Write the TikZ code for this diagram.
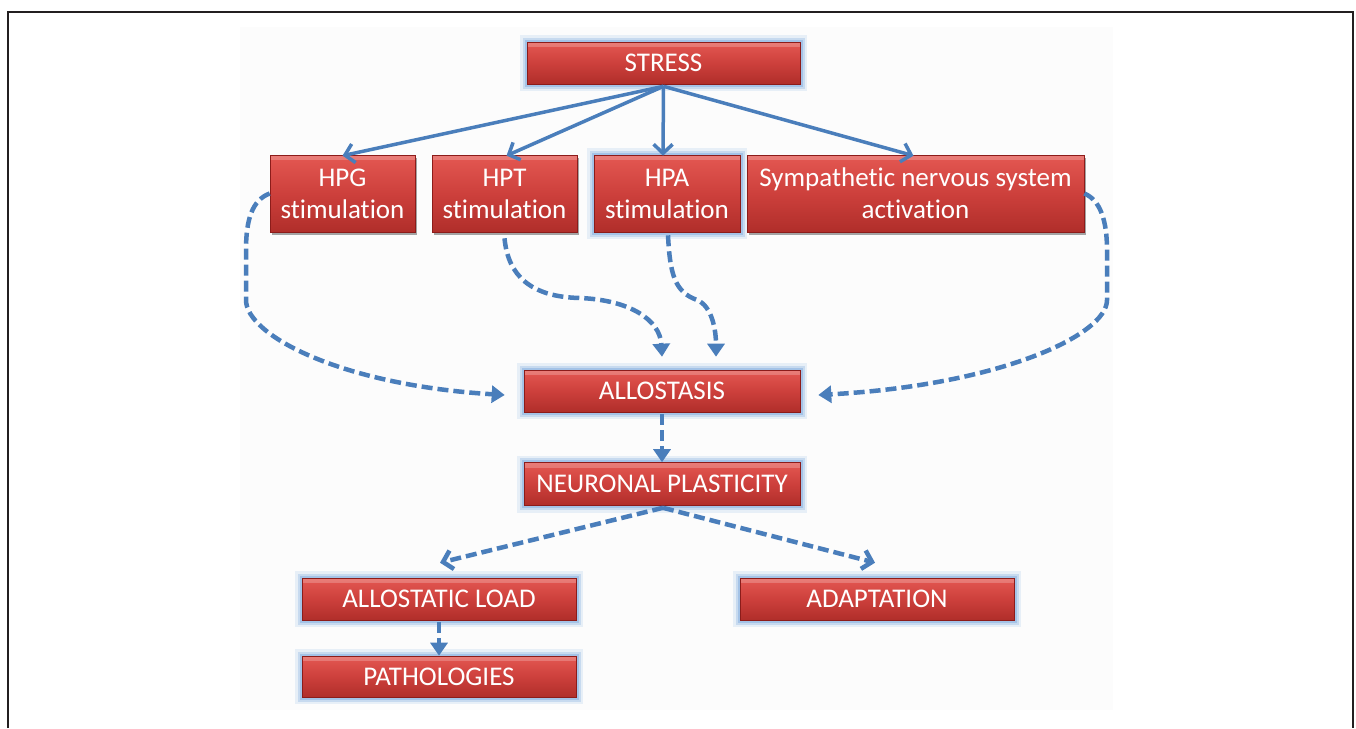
\documentclass[tikz,border=0pt]{standalone}
\usepackage{fontspec}
\setmainfont{Carlito}[Ligatures=NoCommon]
\usetikzlibrary{arrows.meta,shadows,calc}
\definecolor{redtop}{RGB}{228,88,82}
\definecolor{redmid}{RGB}{205,64,60}
\definecolor{redbot}{RGB}{176,46,42}
\definecolor{boxborder}{RGB}{140,28,26}
\definecolor{arrowblue}{RGB}{74,126,187}
\definecolor{glowblue}{RGB}{141,180,226}
\definecolor{framecol}{RGB}{35,31,32}
\tikzset{
  box/.style={draw=boxborder, line width=0.6pt, top color=redtop, bottom color=redbot, middle color=redmid,
    text=white, font=\fontsize{27}{32}\selectfont, align=center, inner sep=0pt,
    path picture={\fill[white,opacity=0.22] (path picture bounding box.north west) rectangle ([yshift=-5pt]path picture bounding box.north east);}},
  glow/.style={preaction={draw=glowblue, line width=14pt, opacity=0.18},
               preaction={draw=glowblue, line width=9pt, opacity=0.35},
               preaction={draw=glowblue, line width=5pt, opacity=0.6}},
  shad/.style={drop shadow={shadow xshift=2pt, shadow yshift=-3pt, opacity=0.35, fill=black}},
  solidarrow/.style={draw=arrowblue, line width=3.5pt, -{Straight Barb[length=9pt,width=19pt]}},
  dasharrow/.style={draw=arrowblue, line width=4.5pt, dash pattern=on 11pt off 5pt, -{Triangle[length=13pt,width=17pt]}},
  dashbarb/.style={draw=arrowblue, line width=4.5pt, dash pattern=on 11pt off 5pt, -{Straight Barb[length=9pt,width=19pt]}},
}
\begin{document}
\begin{tikzpicture}[x=1pt,y=-1pt]
\useasboundingbox (0,0) rectangle (1356,728);
\fill[white] (0,0) rectangle (1356,728);
\fill[black!1] (240,27) rectangle (1113,710);
\draw[framecol, line width=2.5pt] (8,728) -- (8,12) -- (1353,12) -- (1353,728);

\node[box,glow,minimum width=273pt,minimum height=42pt] (stress) at (663.5,63) {STRESS};
\node[box,shad,minimum width=145pt,minimum height=77pt] (hpg) at (342.5,193.5) {HPG\\stimulation};
\node[box,shad,minimum width=145pt,minimum height=77pt] (hpt) at (504.5,193.5) {HPT\\stimulation};
\node[box,glow,minimum width=146pt,minimum height=77pt] (hpa) at (667,193.5) {HPA\\stimulation};
\node[box,shad,minimum width=337pt,minimum height=77pt] (symp) at (915.5,193.5) {Sympathetic nervous system\\activation};
\node[box,glow,minimum width=276pt,minimum height=42pt] (allo) at (662,391) {ALLOSTASIS};
\node[box,glow,minimum width=276pt,minimum height=43pt] (np) at (662,484) {NEURONAL PLASTICITY};
\node[box,glow,minimum width=274pt,minimum height=42pt] (al) at (439,599) {ALLOSTATIC LOAD};
\node[box,glow,minimum width=274pt,minimum height=42pt] (adapt) at (877,599) {ADAPTATION};
\node[box,glow,minimum width=274pt,minimum height=41pt] (path) at (439,676.5) {PATHOLOGIES};

\draw[solidarrow] ($(stress.south)+(0,2)$) -- ($(hpg.north)+(0,1)$);
\draw[solidarrow] ($(stress.south)+(0,2)$) -- ($(hpt.north)+(2,1)$);
\draw[solidarrow] ($(stress.south)+(0,2)$) -- ($(hpa.north)+(-4,1)$);
\draw[solidarrow] ($(stress.south)+(0,2)$) -- ($(symp.north)+(-2,1)$);

\draw[dasharrow] (hpg.west) .. controls (252,200) and (246,220) .. (246,250) -- (246,300)
   .. controls (246,335) and (340,385) .. ($(allo.west)+(-19,4)$);
\draw[dasharrow] (symp.east) .. controls (1100,200) and (1107,220) .. (1107,250) -- (1107,300)
   .. controls (1107,335) and (1000,385) .. ($(allo.east)+(18,4)$);
\draw[dasharrow] ($(hpt.south)+(0,6)$) .. controls (508,275) and (530,297) .. (580,298)
   .. controls (630,300) and (660,320) .. ($(allo.north)+(0,-13)$);
\draw[dasharrow] ($(hpa.south)+(1,3)$) .. controls (670,275) and (675,292) .. (697,300)
   .. controls (712,306) and (716,330) .. ($(allo.north)+(54,-13)$);
\draw[dasharrow] ($(allo.south)+(0,2)$) -- (np.north);
\draw[dashbarb] ($(np.south)+(1,2)$) -- ($(al.north)+(1,-15)$);
\draw[dashbarb] ($(np.south)+(1,2)$) -- ($(adapt.north)+(-2,-15)$);
\draw[dasharrow] ($(al.south)+(0,2)$) -- (path.north);
\end{tikzpicture}
\end{document}
